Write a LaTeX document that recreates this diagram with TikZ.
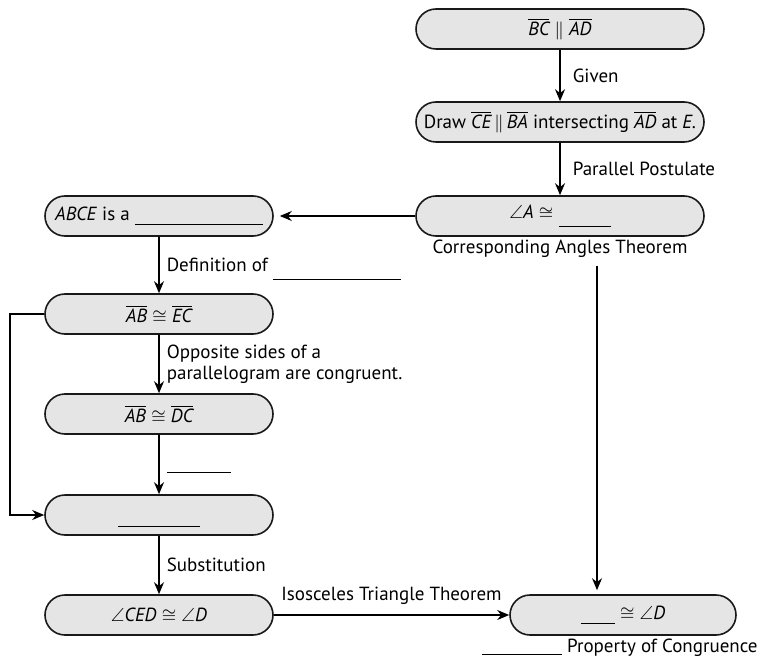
\documentclass[tikz,border=0pt]{standalone}
\usepackage{amsmath,amssymb}
\usepackage{fontspec}
\setmainfont{PT Sans}
\usetikzlibrary{arrows.meta,positioning,shapes.misc,calc}
\newcommand{\seg}[1]{$\overline{\text{\itshape #1}}$}
\newcommand{\blank}[2][-2pt]{\rule[#1]{#2}{0.5pt}}
\tikzset{
  stmt/.style={draw=black!90,line width=0.8pt,fill=black!10,rounded rectangle,minimum width=117pt,minimum height=20pt,inner sep=1.5pt,font=\fontsize{9.5}{10.5}\selectfont},
  why/.style={font=\fontsize{9.5}{10.5}\selectfont,inner sep=1pt,align=left},
  arr/.style={-{Stealth[length=6pt,width=5pt]},line width=0.8pt},
}
\begin{document}
\begin{tikzpicture}[x=0.5pt,y=-0.5pt]
\useasboundingbox (0,0) rectangle (764,662);
% right column
\node[stmt,minimum width=147pt] (bcad) at (560,29) {\seg{BC}\;$\|$\;\seg{AD}};
\node[stmt,minimum width=147pt] (ceba) at (560,122) {Draw \seg{CE}\,$\|$\,\seg{BA} intersecting \seg{AD} at \textit{E.}};
\node[stmt,minimum width=147pt] (angA) at (560,216) {$\angle$\textit{A}\;$\cong$\;\blank[-4pt]{26pt}};
\node[why] (corr) at (560,249) {Corresponding Angles Theorem};
% left column
\node[stmt] (abce) at (159,216) {\textit{ABCE} is a \blank{64pt}};
\node[stmt] (abec) at (159,314) {\seg{AB}\;$\cong$\;\seg{EC}};
\node[stmt] (abdc) at (159,414) {\seg{AB}\;$\cong$\;\seg{DC}};
\node[stmt] (subst) at (159,515) {\rule{0pt}{6pt}\blank[-6pt]{41pt}};
\node[stmt] (ced) at (159,615) {$\angle$\textit{CED}\;$\cong$\;$\angle$\textit{D}};
\node[stmt,minimum width=116pt] (congd) at (623,615) {\blank[-2.5pt]{17pt}\;$\cong$\;$\angle$\textit{D}};
\node[why,anchor=east] (prop) at (760,648) {\blank[-1pt]{40pt} Property of Congruence};
% connectors
\draw[arr] (bcad) -- node[why,right=5pt]{Given} (ceba);
\draw[arr] (ceba) -- node[why,right=5pt]{Parallel Postulate} (angA);
\draw[arr] (angA) -- ([xshift=3pt]abce.east);
\draw[arr] (abce) -- node[why,right=2.5pt,yshift=-2pt]{Definition of \blank[-4pt]{64pt}} (abec);
\draw[arr] (abec) -- node[why,right=2.5pt]{Opposite sides of a\\parallelogram are congruent.} (abdc);
\draw[arr] (abdc) -- node[why,right=2.5pt,yshift=-3pt]{\blank{32pt}} (subst);
\draw[arr] (abec.west) -- ++(-34,0) |- (subst.west);
\draw[arr] (subst) -- node[why,right=2.5pt]{Substitution} (ced);
\draw[arr] (ced) -- node[why,above=4pt]{Isosceles Triangle Theorem} (congd);
\coordinate (drop) at (597,266);
\draw[arr,shorten >=2pt] (drop) -- (drop |- congd.north);
\end{tikzpicture}
\end{document}
